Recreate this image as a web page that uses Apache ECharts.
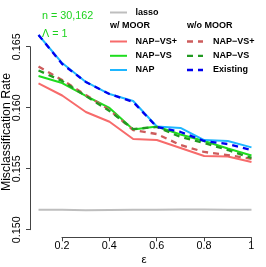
<!DOCTYPE html>
<html><head><meta charset="utf-8">
<script src="https://cdn.jsdelivr.net/npm/echarts@6/dist/echarts.min.js"></script>
<style>html,body{margin:0;padding:0;background:#fff}#c{width:266px;height:267px}</style>
</head><body><div id="c"></div>
<script>
const eps = [0.1, 0.2, 0.3, 0.4, 0.5, 0.6, 0.7, 0.8, 0.9, 1.0];
const lasso = [0.15164, 0.15163, 0.15160, 0.15162, 0.15163, 0.15164, 0.15165, 0.15165, 0.15164, 0.15163];
const napVsPlusMoor = [0.16200, 0.16100, 0.15965, 0.15885, 0.15743, 0.15735, 0.15670, 0.15604, 0.15600, 0.15555];
const napVsMoor = [0.16260, 0.16202, 0.16096, 0.15998, 0.15821, 0.15846, 0.15780, 0.15727, 0.15666, 0.15608];
const napMoor = [0.16596, 0.16366, 0.16211, 0.16112, 0.16055, 0.15846, 0.15834, 0.15735, 0.15727, 0.15675];
const napVsPlusNo = [0.16338, 0.16227, 0.16104, 0.15981, 0.15817, 0.15784, 0.15694, 0.15637, 0.15612, 0.15580];
const napVsNo = [0.16305, 0.16219, 0.16096, 0.15973, 0.15825, 0.15842, 0.15760, 0.15711, 0.15653, 0.15588];
const existing = [0.16596, 0.16358, 0.16211, 0.16112, 0.16047, 0.15842, 0.15801, 0.15727, 0.15702, 0.15653];
const yTicks = [0.150, 0.155, 0.160, 0.165];
const xTicks = [0.2, 0.4, 0.6, 0.8, 1];

const FONT = '"Liberation Sans", Arial, Helvetica, sans-serif';
const pairs = arr => eps.map((e, i) => [e, arr[i]]);
const C = {
  lasso: '#BEBEBE', rs: '#F76B6B', gs: '#1EDD1E', bs: '#1EB6FF',
  rd: '#CD5C5C', gd: '#229A22', bd: '#0000EE', txt: '#1ED21E'
};
const dash = [6, 5];
function line(name, data, color, width, dashed) {
  return {
    name, type: 'line', data: pairs(data), xAxisIndex: 0, yAxisIndex: 0,
    showSymbol: false, symbol: 'none', silent: true, animation: false,
    lineStyle: { color, width, type: dashed ? dash : 'solid', cap: 'butt' }
  };
}

const chart = echarts.init(document.getElementById('c'), null, { renderer: 'canvas' });

const legendLines = [];
const legendTexts = [];
function lg(x1, x2, y, color, w, dashed) {
  legendLines.push({ type: 'line', shape: { x1, y1: y, x2, y2: y },
    style: { stroke: color, lineWidth: w, lineDash: dashed ? dash : null }, silent: true });
}
function lt(x, y, text, bold, color) {
  legendTexts.push({ type: 'text', x, y, style: { text, fill: color || '#000',
    font: (bold ? 'bold ' : '') + '9px ' + FONT, textAlign: 'left', textVerticalAlign: 'middle' }, silent: true });
}
lg(110, 127, 12.5, C.lasso, 2, false); lt(135.5, 12.5, 'lasso', true);
lt(110, 26, 'w/ MOOR', true); lt(187, 26, 'w/o MOOR', true);
lg(110, 127, 41.5, C.rs, 2, false); lt(135.5, 41.5, 'NAP\u2212VS+', true);
lg(110, 127, 55.8, C.gs, 2, false); lt(135.5, 55.8, 'NAP\u2212VS', true);
lg(110, 127, 70, C.bs, 2, false); lt(135.5, 70, 'NAP', true);
lg(187, 203, 41.5, C.rd, 2.3, true); lt(213, 41.5, 'NAP\u2212VS+', true);
lg(187, 203, 55.8, C.gd, 2.3, true); lt(213, 55.8, 'NAP\u2212VS', true);
lg(187, 203, 70, C.bd, 2.3, true); lt(213, 70, 'Existing', true);

const axisFont = { fontFamily: FONT, fontSize: 10.8, color: '#000' };

chart.setOption({
  animation: false,
  grid: [
    { left: 30, top: 26.7, width: 230, height: 210.6, containLabel: false },
    { left: 30, top: 46.7, width: 10, height: 183, containLabel: false },
    { left: 62, top: 236.3, width: 189.3, height: 1, containLabel: false }
  ],
  xAxis: [
    { type: 'value', gridIndex: 0, min: 0.064, max: 1.036, show: false },
    { type: 'value', gridIndex: 1, min: 0, max: 1, show: false },
    { type: 'value', gridIndex: 2, min: 0.2, max: 1, interval: 0.2,
      axisLine: { show: true, lineStyle: { color: '#444', width: 1 } },
      axisTick: { show: true, length: 4, inside: false, lineStyle: { color: '#444' } },
      splitLine: { show: false },
      axisLabel: Object.assign({ margin: 3, formatter: v => String(+v.toFixed(1)) }, axisFont) }
  ],
  yAxis: [
    { type: 'value', gridIndex: 0, min: 0.149377, max: 0.166639, show: false },
    { type: 'value', gridIndex: 1, min: 0.150, max: 0.165, interval: 0.005,
      axisLine: { show: true, lineStyle: { color: '#444', width: 1 } },
      axisTick: { show: true, length: 4, inside: false, lineStyle: { color: '#444' } },
      splitLine: { show: false },
      axisLabel: Object.assign({ margin: 7, rotate: 90, formatter: v => v.toFixed(3) }, axisFont) },
    { type: 'value', gridIndex: 2, min: 0, max: 1, show: false }
  ],
  series: [
    line('lasso', lasso, C.lasso, 2, false),
    line('NAP-VS+ w/ MOOR', napVsPlusMoor, C.rs, 2, false),
    line('NAP-VS w/ MOOR', napVsMoor, C.gs, 2, false),
    line('NAP w/ MOOR', napMoor, C.bs, 2, false),
    line('NAP-VS+ w/o MOOR', napVsPlusNo, C.rd, 2.3, true),
    line('NAP-VS w/o MOOR', napVsNo, C.gd, 2.3, true),
    line('Existing', existing, C.bd, 2.3, true)
  ],
  graphic: [
    ...legendLines, ...legendTexts,
    { type: 'text', x: 42, y: 16, style: { text: 'n = 30,162', fill: C.txt, font: '10.8px ' + FONT, textAlign: 'left', textVerticalAlign: 'middle' }, silent: true },
    { type: 'text', x: 42, y: 34, style: { text: '\u039B = 1', fill: C.txt, font: '10.8px ' + FONT, textAlign: 'left', textVerticalAlign: 'middle' }, silent: true },
    { type: 'text', x: 6.5, y: 132, rotation: Math.PI / 2, style: { text: 'Misclassification Rate', fill: '#000', font: '12.3px ' + FONT, textAlign: 'center', textVerticalAlign: 'middle' }, silent: true },
    { type: 'text', x: 144, y: 260, style: { text: '\u03B5', fill: '#000', font: '11.5px ' + FONT, textAlign: 'center', textVerticalAlign: 'middle' }, silent: true }
  ]
});
</script></body></html>
